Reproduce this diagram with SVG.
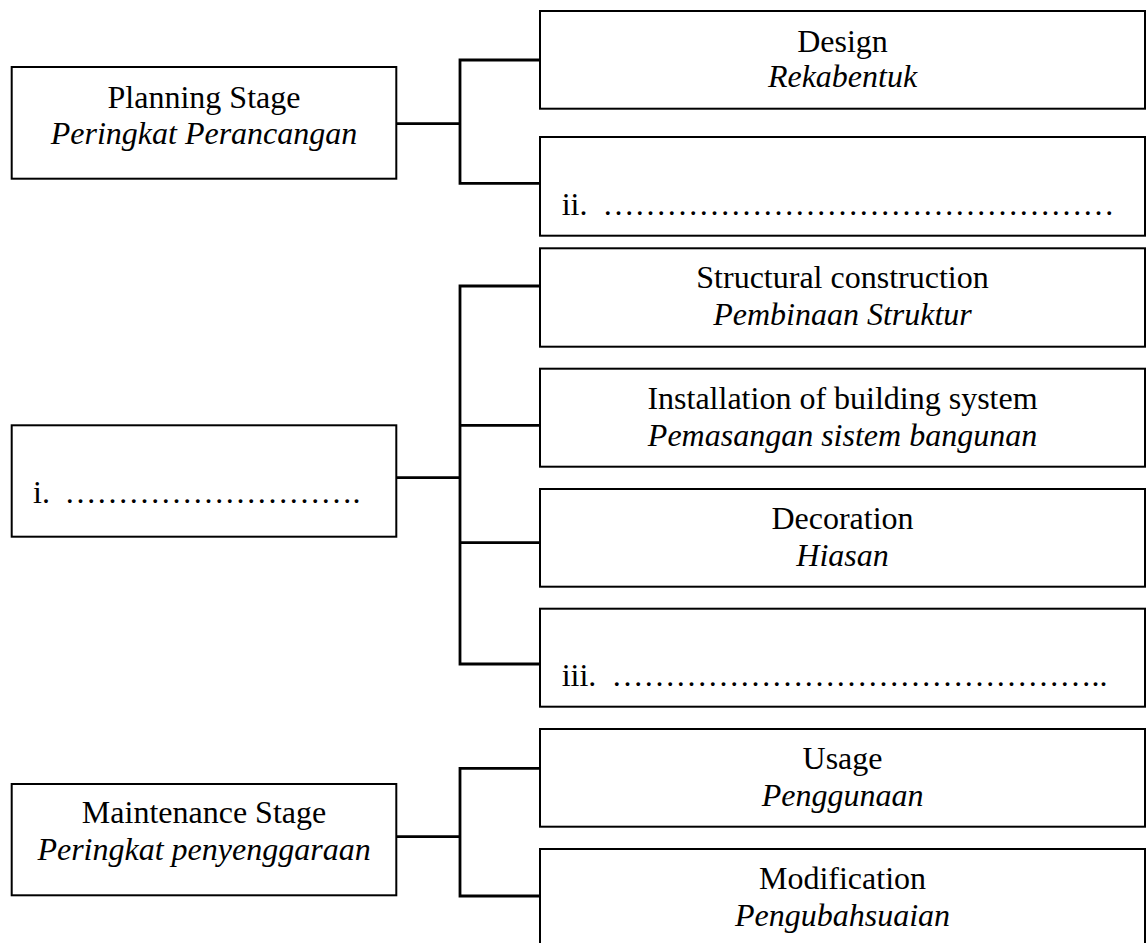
<svg xmlns="http://www.w3.org/2000/svg" width="1147" height="943" viewBox="0 0 1147 943">
<style>
  .box { fill: #ffffff; stroke: #000000; stroke-width: 2; }
  .conn { fill: none; stroke: #000000; stroke-width: 2.8; stroke-linecap: square; }
  text { font-family: "Liberation Serif", "Times New Roman", serif; font-size: 32px; fill: #000000; }
  .c { text-anchor: middle; }
  .it { font-style: italic; }
</style>
<rect x="0" y="0" width="1147" height="943" fill="#ffffff"/>

<g id="connectors">
  <path class="conn" d="M396.3 123.7 H460 M460 60 V183.3 M460 60 H540 M460 183.3 H540"/>
  <path class="conn" d="M396.3 477.7 H460 M460 286 V664 M460 286 H540 M460 425.3 H540 M460 542.7 H540 M460 664 H540"/>
  <path class="conn" d="M396.3 836.7 H460 M460 768.3 V896 M460 768.3 H540 M460 896 H540"/>
</g>

<g id="planning">
  <rect class="box" x="11.7" y="67" width="384.6" height="111.7"/>
  <text class="c" x="204" y="107.7">Planning Stage</text>
  <text class="c it" x="204" y="144.3">Peringkat Perancangan</text>
</g>

<g id="construction">
  <rect class="box" x="11.7" y="425.3" width="384.6" height="111.4"/>
  <text y="503.3"><tspan x="33">i.</tspan><tspan x="64.5">&#8230;&#8230;&#8230;&#8230;&#8230;&#8230;&#8230;&#8230;&#8230;.</tspan></text>
</g>

<g id="maintenance">
  <rect class="box" x="11.7" y="784" width="384.6" height="111.3"/>
  <text class="c" x="204" y="823.3">Maintenance Stage</text>
  <text class="c it" x="204" y="860">Peringkat penyenggaraan</text>
</g>

<g id="design">
  <rect class="box" x="540" y="11" width="605" height="97.7"/>
  <text class="c" x="842.5" y="51.7">Design</text>
  <text class="c it" x="842.5" y="87.3">Rekabentuk</text>
</g>

<g id="blank-ii">
  <rect class="box" x="540" y="137" width="605" height="98.7"/>
  <text y="215"><tspan x="561.7">ii.</tspan><tspan x="602.5">&#8230;&#8230;&#8230;&#8230;&#8230;&#8230;&#8230;&#8230;&#8230;&#8230;&#8230;&#8230;&#8230;&#8230;&#8230;&#8230;</tspan></text>
</g>

<g id="structural">
  <rect class="box" x="540" y="248.3" width="605" height="98.4"/>
  <text class="c" x="842.5" y="288.3">Structural construction</text>
  <text class="c it" x="842.5" y="325">Pembinaan Struktur</text>
</g>

<g id="installation">
  <rect class="box" x="540" y="368.7" width="605" height="98"/>
  <text class="c" x="842.5" y="409.3">Installation of building system</text>
  <text class="c it" x="842.5" y="446">Pemasangan sistem bangunan</text>
</g>

<g id="decoration">
  <rect class="box" x="540" y="489" width="605" height="97.7"/>
  <text class="c" x="842.5" y="529.3">Decoration</text>
  <text class="c it" x="842.5" y="566">Hiasan</text>
</g>

<g id="blank-iii">
  <rect class="box" x="540" y="608.7" width="605" height="98"/>
  <text y="685.7"><tspan x="561.7">iii.</tspan><tspan x="611.5">&#8230;&#8230;&#8230;&#8230;&#8230;&#8230;&#8230;&#8230;&#8230;&#8230;&#8230;&#8230;&#8230;&#8230;&#8230;..</tspan></text>
</g>

<g id="usage">
  <rect class="box" x="540" y="729" width="605" height="97.7"/>
  <text class="c" x="842.5" y="769.3">Usage</text>
  <text class="c it" x="842.5" y="805.7">Penggunaan</text>
</g>

<g id="modification">
  <rect class="box" x="540" y="849" width="605" height="100"/>
  <text class="c" x="842.5" y="889.3">Modification</text>
  <text class="c it" x="842.5" y="926">Pengubahsuaian</text>
</g>
</svg>
